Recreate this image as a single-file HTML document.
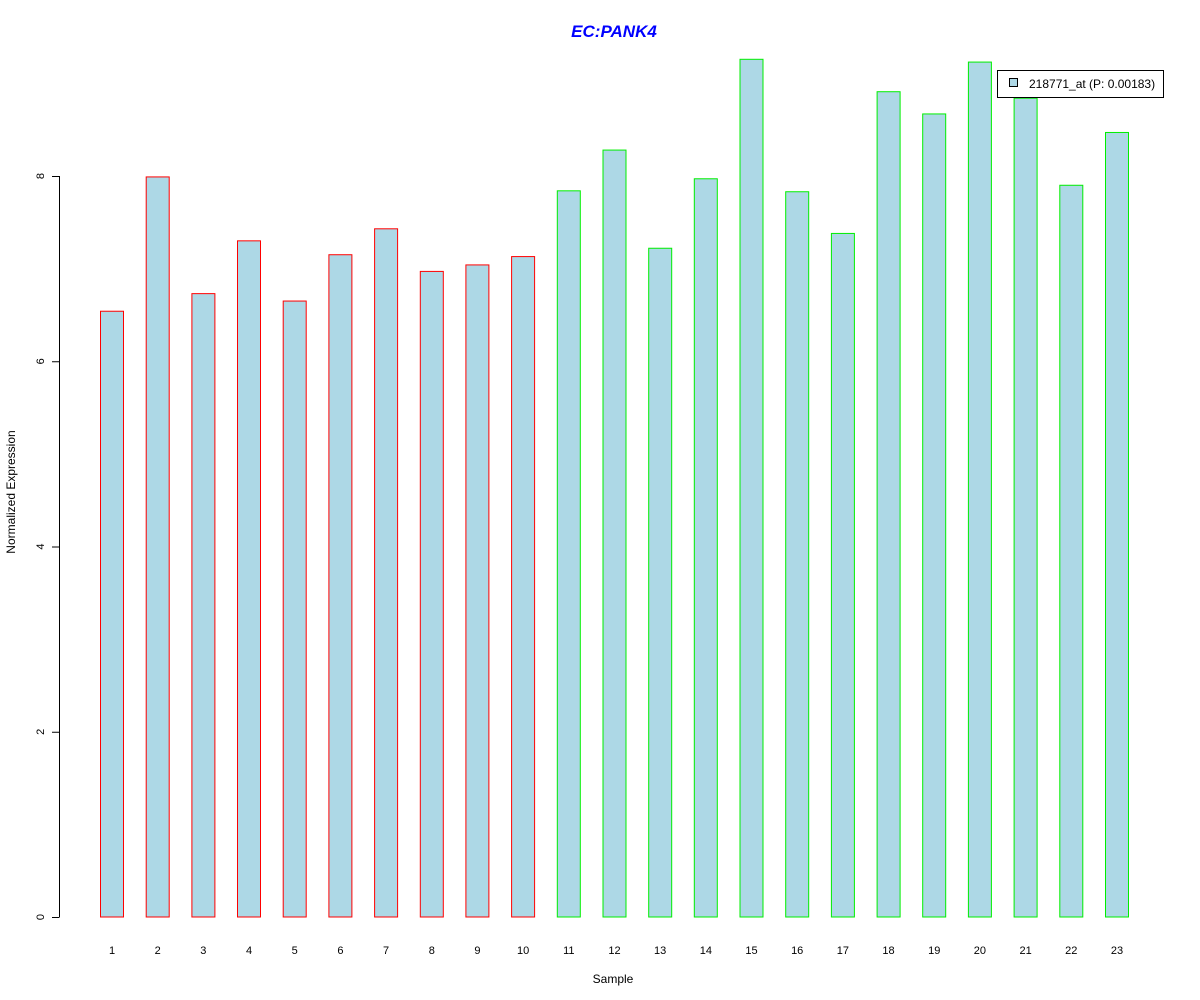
<!DOCTYPE html>
<html><head><meta charset="utf-8"><style>
body{margin:0;background:#fff}
svg{display:block;font-family:"Liberation Sans",Arial,sans-serif}
</style></head><body>
<svg id="chart" width="1200" height="1000" xmlns="http://www.w3.org/2000/svg">
<rect width="1200" height="1000" fill="#fff"/>
<text x="614" y="37" text-anchor="middle" font-size="17" font-weight="bold" font-style="italic" fill="#0000ff">EC:PANK4</text>
<text x="613" y="983" text-anchor="middle" font-size="12">Sample</text>
<text transform="translate(15,492) rotate(-90)" text-anchor="middle" font-size="12">Normalized Expression</text>
<g id="yaxis"></g>
<g id="bars"></g>
<g id="xlabels"></g>
<g>
<rect x="997.5" y="70.5" width="166" height="27" fill="#fff" stroke="#000"/>
<rect x="1009.5" y="78.5" width="8" height="8" fill="#add8e6" stroke="#000"/>
<text x="1029" y="88" font-size="12">218771_at (P: 0.00183)</text>
</g>
</svg>
<script>
const categories=["1","2","3","4","5","6","7","8","9","10","11","12","13","14","15","16","17","18","19","20","21","22","23"];
const values=[6.54,7.99,6.73,7.30,6.65,7.15,7.43,6.97,7.04,7.13,7.84,8.28,7.22,7.97,9.26,7.83,7.38,8.91,8.67,9.23,8.84,7.90,8.47];
const groups=["r","r","r","r","r","r","r","r","r","r","g","g","g","g","g","g","g","g","g","g","g","g","g"];
const yTicks=[0,2,4,6,8];
const NS="http://www.w3.org/2000/svg";
function y(v){return 917-v*92.625;}
function xc(i){return 112+i*45.68;}
const bars=document.getElementById('bars'),xl=document.getElementById('xlabels'),ya=document.getElementById('yaxis');
values.forEach((v,i)=>{
 const r=document.createElementNS(NS,'rect');
 
 
 r.setAttribute('x',(xc(i)-11.5).toFixed(1));r.setAttribute('y',y(v));
 r.setAttribute('width',23);r.setAttribute('height',917-y(v));
 r.setAttribute('fill','#add8e6');r.setAttribute('stroke',groups[i]=='r'?'#ff0000':'#00ee00');
 bars.appendChild(r);
 const t=document.createElementNS(NS,'text');
 
 
 t.setAttribute('x',xc(i));t.setAttribute('y',954);t.setAttribute('text-anchor','middle');t.setAttribute('font-size','11');
 t.textContent=categories[i];xl.appendChild(t);
});
const ln=document.createElementNS(NS,'line');


ln.setAttribute('x1',59.5);ln.setAttribute('x2',59.5);ln.setAttribute('y1',y(8));ln.setAttribute('y2',y(0));ln.setAttribute('stroke','#000');
ya.appendChild(ln);
yTicks.forEach(v=>{
 const l=document.createElementNS(NS,'line');
 
 
 l.setAttribute('x1',52);l.setAttribute('x2',59.5);l.setAttribute('y1',y(v)+0.5);l.setAttribute('y2',y(v)+0.5);l.setAttribute('stroke','#000');
 ya.appendChild(l);
 const t=document.createElementNS(NS,'text');
 
 
 t.setAttribute('transform','translate(44,'+y(v)+') rotate(-90)');t.setAttribute('text-anchor','middle');t.setAttribute('font-size','11');
 t.textContent=v;ya.appendChild(t);
});
</script>
</body></html>
